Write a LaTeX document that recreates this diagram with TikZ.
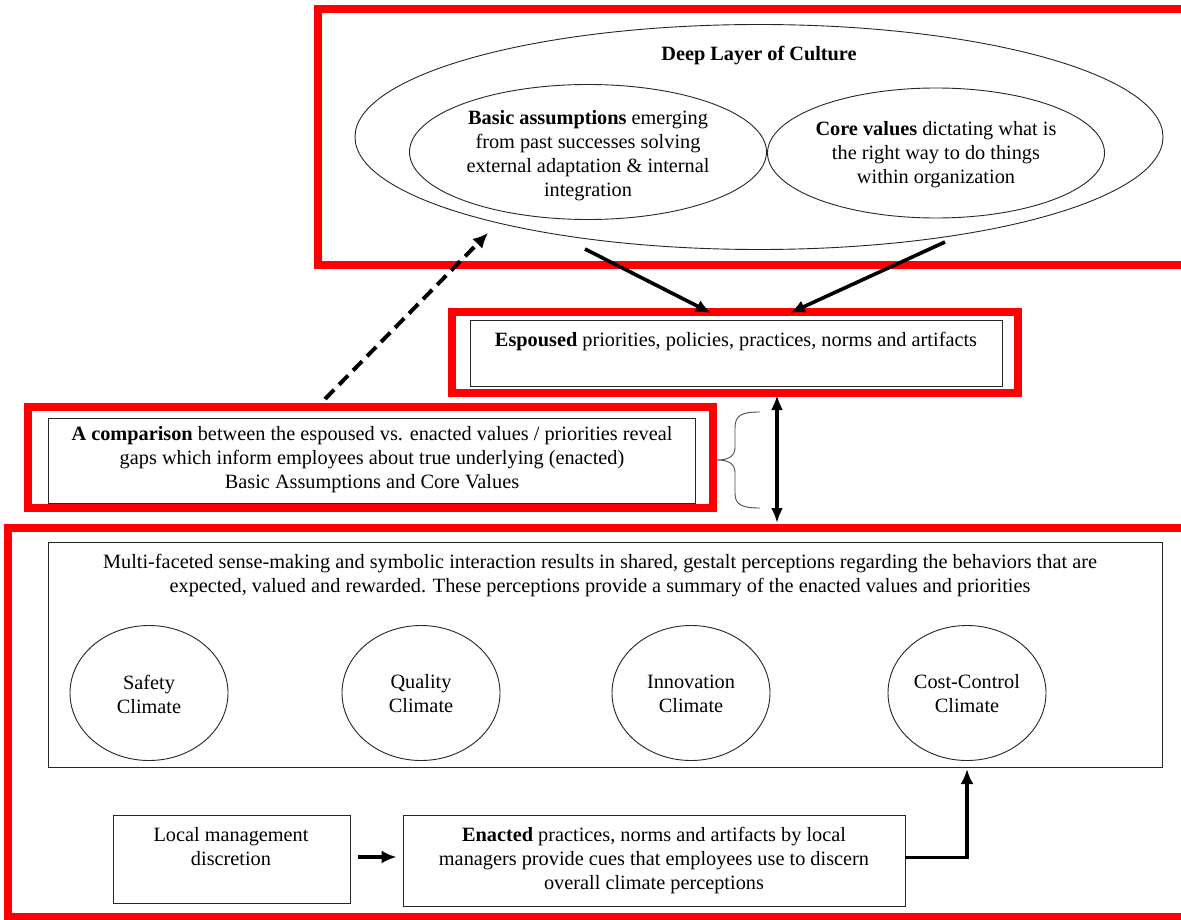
\documentclass[tikz,border=0pt]{standalone}
\usepackage{fontspec}
\setmainfont{Liberation Serif}
\usetikzlibrary{arrows.meta,shapes.geometric}

\begin{document}
\begin{tikzpicture}[x=1pt,y=-1pt,
  redframe/.style={draw=red, line width=7.5pt},
  thinbox/.style={draw=black!85, line width=0.9pt, inner sep=0pt},
  oval/.style={draw=black!85, ellipse, line width=0.9pt, inner sep=0pt},
  txt/.style={align=center, font=\fontsize{20.3}{24}\selectfont, inner sep=0pt},
  flow/.style={line width=3.6pt, -{Latex[length=15pt,width=13pt]}},
  twoway/.style={line width=3.2pt, {Latex[length=15pt,width=12pt]}-{Latex[length=15pt,width=12pt]}},
  hint/.style={line width=4pt, dash pattern=on 13pt off 7pt, -{Latex[length=15pt,width=14pt]}},
  bracestyle/.style={draw=black!70, line width=0.9pt},
]
\useasboundingbox (0,0) rectangle (1181,920);
\clip (0,0) rectangle (1181,920);
\fill[white] (0,0) rectangle (1181,920);

% ---------- deep layer of culture ----------
\draw[redframe] (318,9) rectangle (1200,265);
\node[oval, minimum width=808pt, minimum height=225pt] (deep) at (759,137) {};
\node[txt] (deeplbl) at (759,56) {\textbf{Deep Layer of Culture}};
\node[oval, minimum width=357pt, minimum height=135pt] (basic) at (588,152) {};
\node[txt] (basiclbl) at (588,156) {\textbf{Basic assumptions} emerging\\from past successes solving\\external adaptation \& internal\\integration};
\node[oval, minimum width=337pt, minimum height=130pt] (core) at (936,153) {};
\node[txt] (corelbl) at (936,155) {\textbf{Core values} dictating what is\\the right way to do things\\within organization};

% ---------- espoused layer ----------
\draw[redframe] (452,312) rectangle (1018,393);
\node[thinbox, minimum width=532pt, minimum height=66pt] (esp) at (736,353) {};
\node[txt] (esplbl) at (736,342) {\textbf{Espoused} priorities, policies, practices, norms and artifacts};

% ---------- comparison ----------
\draw[redframe] (28,407) rectangle (713,508);
\node[thinbox, minimum width=647pt, minimum height=85pt] (cmp) at (371.5,460.5) {};
\node[txt] (cmplbl) at (372,460) {\textbf{A comparison} between the espoused vs. enacted values / priorities reveal\\gaps which inform employees about true underlying (enacted)\\Basic Assumptions and Core Values};
\draw[bracestyle] (760,412) .. controls (742,412) and (735,415) .. (735,428) -- (735,447)
  .. controls (735,456) and (729,460) .. (717,460)
  .. controls (729,460) and (735,464) .. (735,473) -- (735,493)
  .. controls (735,505) and (742,508) .. (760,508);

% ---------- climate layer ----------
\draw[redframe] (8,528) rectangle (1200,917);
\node[thinbox, minimum width=1114pt, minimum height=225pt] (climate) at (605,654.5) {};
\node[txt] (climlbl) at (600,576) {Multi-faceted sense-making and symbolic interaction results in shared, gestalt perceptions regarding the behaviors that are\\expected, valued and rewarded. These perceptions provide a summary of the enacted values and priorities};
\node[oval, minimum width=158pt, minimum height=135pt] (safety) at (149,693) {};
\node[txt] (safetylbl) at (149,694) {Safety\\Climate};
\node[oval, minimum width=158pt, minimum height=135pt] (quality) at (421,693) {};
\node[txt] (qualitylbl) at (421,694) {Quality\\Climate};
\node[oval, minimum width=158pt, minimum height=135pt] (innov) at (691,693) {};
\node[txt] (innovlbl) at (691,694) {Innovation\\Climate};
\node[oval, minimum width=158pt, minimum height=135pt] (cost) at (967,693) {};
\node[txt] (costlbl) at (967,694) {Cost-Control\\Climate};

\node[thinbox, minimum width=237pt, minimum height=88pt] (local) at (231.5,859) {};
\node[txt] (locallbl) at (231,847) {Local management\\discretion};
\node[thinbox, minimum width=502pt, minimum height=91pt] (enact) at (654,860.5) {};
\node[txt] (enactlbl) at (654,861) {\textbf{Enacted} practices, norms and artifacts by local\\managers provide cues that employees use to discern\\overall climate perceptions};

% ---------- connectors ----------
\coordinate (deepL) at (585,249);
\coordinate (deepR) at (945,242);
\coordinate (espL) at (711,313);
\coordinate (espR) at (790,313);
\draw[flow] (deepL) -- (espL);
\draw[flow] (deepR) -- (espR);

\coordinate (cmpOut) at (325,399);
\coordinate (deepIn) at (488,233);
\draw[hint] (cmpOut) -- (deepIn);

\coordinate (espOut) at (777,395);
\coordinate (climIn) at (777,523);
\draw[twoway] (espOut) -- (climIn);

\draw[flow] ([xshift=8pt,yshift=2pt]local.east) -- ([xshift=-6pt,yshift=3.5pt]enact.west);
\coordinate (costIn) at (967,769);
\draw[flow] ([yshift=3pt]enact.east) -| (costIn);
\end{tikzpicture}
\end{document}
